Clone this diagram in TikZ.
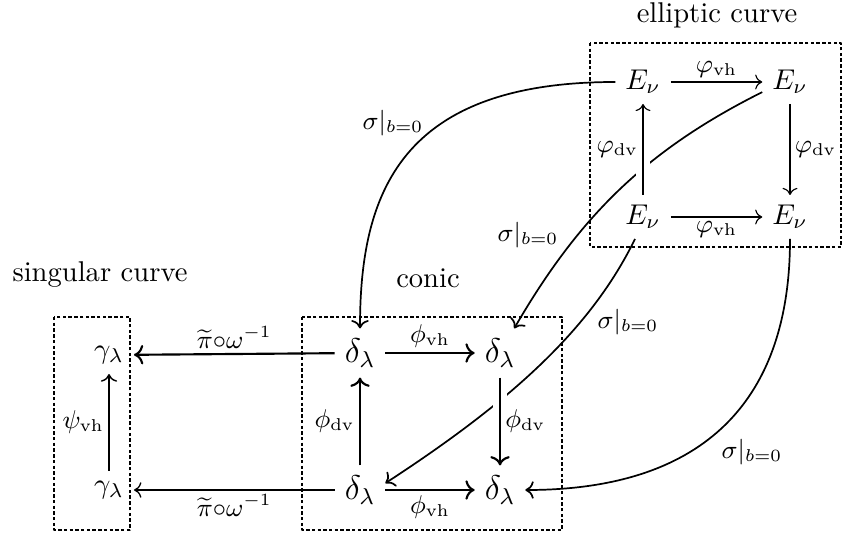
\documentclass[tikz,border=0pt]{standalone}
\usepackage{amsmath}
\usepackage{amssymb}
\usepackage{tikz}
\usetikzlibrary{arrows.meta}

\begin{document}
\begin{tikzpicture}[x=0.0123cm,y=-0.0123cm,>={To},line join=round,
  box/.style={dash pattern=on 1.2pt off 0.8pt,line width=0.55pt},
  conicobj/.style={font=\large},
  lab/.style={font=\small,inner sep=1.5pt},
  cross/.style={preaction={draw=white,line width=5pt,-}},
  sig/.style={->,line width=0.6pt}]
\useasboundingbox (0,0) rectangle (844,535);

%% ---------------- elliptic curve ----------------
\node (titleE) at (717,15) {elliptic curve};
\draw[box,line width=0.45pt] (590,43) rectangle (841,247);
\node (ETL) at (643,82) {$E_\nu$};
\node (ETR) at (790,82) {$E_\nu$};
\node (EBL) at (643,217) {$E_\nu$};
\node (EBR) at (790,217) {$E_\nu$};

%% ---------------- conic ----------------
\node (titleC) at (428,278) {conic};
\draw[box] (302,317) rectangle (562,530);
\node[conicobj] (CTL) at (360,353) {$\delta_\lambda$};
\node[conicobj] (CTR) at (500,353) {$\delta_\lambda$};
\node[conicobj] (CBL) at (360,490) {$\delta_\lambda$};
\node[conicobj] (CBR) at (500,490) {$\delta_\lambda$};

%% ---------------- singular curve ----------------
\node (titleS) at (100,275) {singular curve};
\draw[box] (54,317) rectangle (130,530);
\node (STop) at (109,355) {$\gamma_\lambda$};
\node (SBot) at (109,490) {$\gamma_\lambda$};

%% sigma|_{b=0}: from the elliptic square down to the conic square
\draw[sig] (ETL.west) .. controls +(-215,0) and +(0,-135) .. (CTL.north);
\draw[sig] (ETR.200) .. controls +(-116,58) and +(65,-112) .. (CTR.60);
\draw[sig] (EBL.250) .. controls +(-44,90) and +(126,-82) .. (CBL.15);
\draw[sig] (EBR.south) .. controls +(0,170) and +(170,0) .. (CBR.east);
\node[lab] (sig1) at (393,123) {$\sigma|_{b=0}$};
\node[lab] (sig2) at (528,235) {$\sigma|_{b=0}$};
\node[lab] (sig3) at (628,322) {$\sigma|_{b=0}$};
\node[lab] (sig4) at (752,452) {$\sigma|_{b=0}$};

%% elliptic square
\draw[->] (ETL) -- node[lab,above] (vhE1) {$\varphi_{\mathrm{vh}}$} (ETR);
\draw[->] (EBL) -- node[lab,below] (vhE2) {$\varphi_{\mathrm{vh}}$} (EBR);
\draw[->,cross] (EBL) -- node[lab,left] (dvE1) {$\varphi_{\mathrm{dv}}$} (ETL);
\draw[->] (ETR) -- node[lab,right] (dvE2) {$\varphi_{\mathrm{dv}}$} (EBR);

%% conic square
\draw[->,line width=0.75pt] (CTL) -- node[lab,above] (vhC1) {$\phi_{\mathrm{vh}}$} (CTR);
\draw[->,line width=0.75pt] (CBL) -- node[lab,below] (vhC2) {$\phi_{\mathrm{vh}}$} (CBR);
\draw[->,line width=0.75pt] (CBL) -- node[lab,left] (dvC1) {$\phi_{\mathrm{dv}}$} (CTL);
\draw[->,line width=0.75pt,cross] (CTR) -- node[lab,right] (dvC2) {$\phi_{\mathrm{dv}}$} (CBR);

%% singular column and the maps into it
\draw[->,line width=0.5pt] (SBot) -- node[lab,left] (vhS) {$\psi_{\mathrm{vh}}$} (STop);
\draw[->,line width=0.75pt] (CTL) -- node[lab,above] (pi1) {$\widetilde{\pi}{\circ}\omega^{-1}$} (STop);
\draw[->,line width=0.45pt] (CBL) -- node[lab,below] (pi2) {$\widetilde{\pi}{\circ}\omega^{-1}$} (SBot);

\end{tikzpicture}
\end{document}
